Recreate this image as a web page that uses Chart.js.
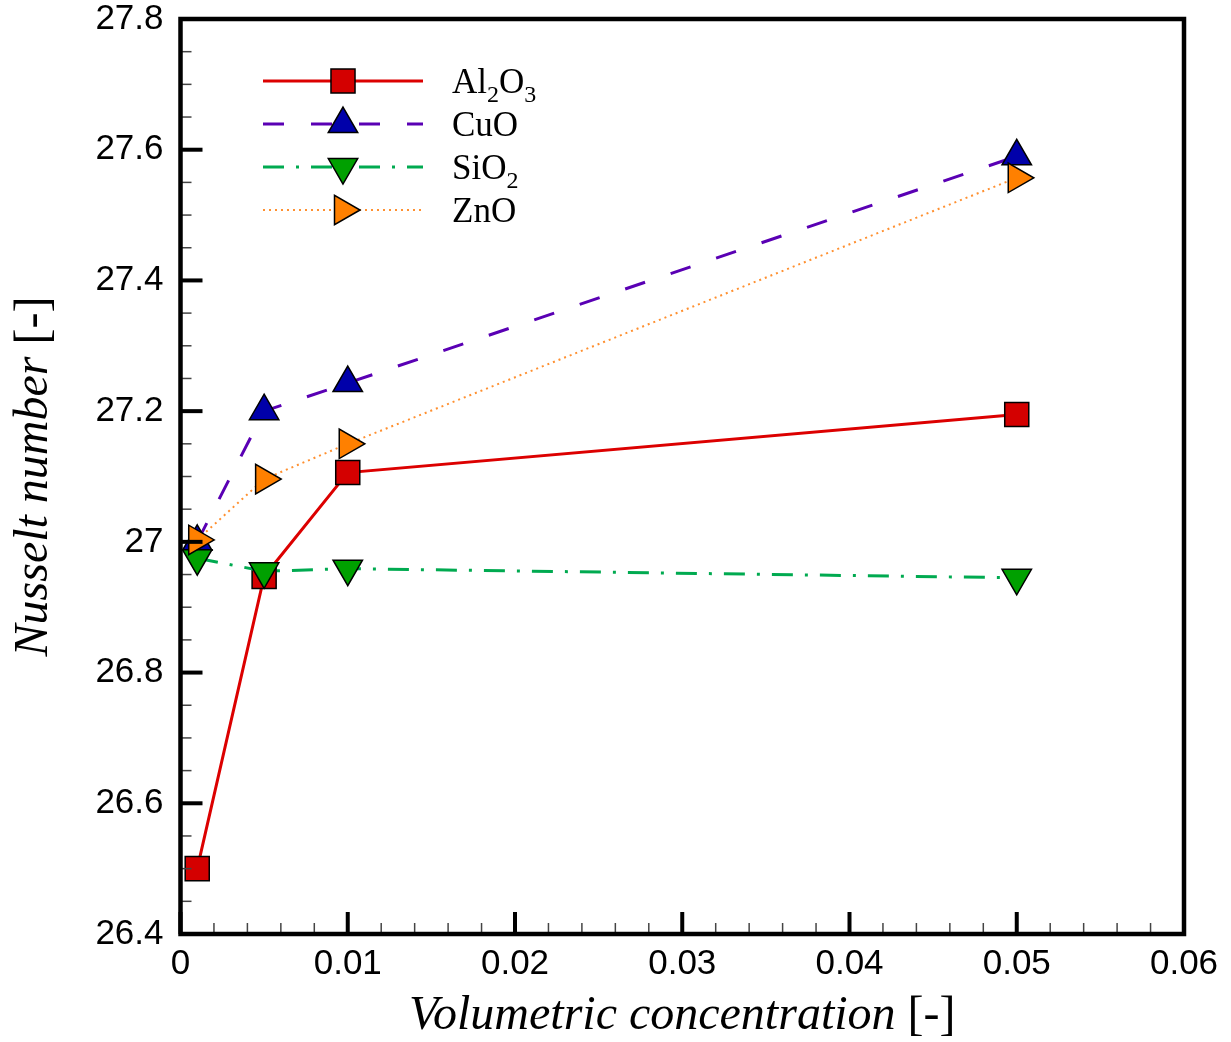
<!DOCTYPE html>
<meta charset="utf-8">
<style>
	body { margin: 0; background: #fff; }
</style>
<body>

	<script src="https://cdn.jsdelivr.net/npm/chart.js"></script>

	<canvas id="nusseltChart" width="1231" height="1042"></canvas>

	<script>
		// volumetric concentration values and Nusselt number per nanofluid
		var concentrations = [0.001, 0.005, 0.01, 0.05];
		var al2o3 = [26.5, 26.947, 27.106, 27.195];
		var cuo = [27.0, 27.2, 27.243, 27.59];
		var sio2 = [26.975, 26.955, 26.959, 26.945];
		var zno = [27.003, 27.096, 27.15, 27.557];

		// legend text, split so subscripts can be drawn smaller
		var legendLabels = [
			[["Al", 0], ["2", 1], ["O", 0], ["3", 1]],
			[["CuO", 0]],
			[["SiO", 0], ["2", 1]],
			[["ZnO", 0]]
		];

		var xTitle = ["Volumetric concentration ", "[-]"];
		var yTitle = ["Nusselt number ", "[-]"];

		function points(ys) {
			return ys.map(function(y, i) { return {x: concentrations[i], y: y}; });
		}

		var sets = [
			{ label: "Al2O3", data: points(al2o3), borderColor: "#dc0000", backgroundColor: "#d40000",
			  pointStyle: "rect", pointRotation: 0, pointRadius: 17, borderWidth: 3, borderDash: [], order: 3 },
			{ label: "CuO", data: points(cuo), borderColor: "#5a00b4", backgroundColor: "#0000aa",
			  pointStyle: "triangle", pointRotation: 0, pointRadius: 17, borderWidth: 3, borderDash: [21, 27], order: 2 },
			{ label: "SiO2", data: points(sio2), borderColor: "#00aa50", backgroundColor: "#00a000",
			  pointStyle: "triangle", pointRotation: 180, pointRadius: 17, borderWidth: 3, borderDash: [21, 12, 3, 12], order: 1 },
			{ label: "ZnO", data: points(zno), borderColor: "#ff9030", backgroundColor: "#ff8000",
			  pointStyle: "triangle", pointRotation: 90, pointRadius: 17, borderWidth: 2, borderDash: [2, 4], order: 0 }
		];

		var datasets = sets.map(function(s) {
			return {
				label: s.label,
				data: s.data,
				order: s.order,
				borderColor: s.borderColor,
				borderWidth: s.borderWidth,
				borderDash: s.borderDash,
				backgroundColor: s.backgroundColor,
				pointStyle: s.pointStyle,
				pointRotation: s.pointRotation,
				pointRadius: s.pointRadius,
				pointHoverRadius: s.pointRadius,
				pointBackgroundColor: s.backgroundColor,
				pointBorderColor: "#000",
				pointBorderWidth: 1.5,
				tension: 0,
				fill: false,
				clip: false
			};
		});

		function isMultiple(v, step) {
			var q = v / step;
			return Math.abs(q - Math.round(q)) < 1e-6;
		}

		// frame, inward ticks, axis titles and legend
		var decorations = {
			id: "decorations",
			afterDraw: function(chart) {
				var ctx = chart.ctx;
				var area = chart.chartArea;
				var xs = chart.scales.x;
				var ys = chart.scales.y;
				ctx.save();

				// ticks
				ys.ticks.forEach(function(t) {
					var py = ys.getPixelForValue(t.value);
					var major = isMultiple(t.value - 26.4, 0.2);
					ctx.beginPath();
					ctx.strokeStyle = major ? "#000" : "#444";
					ctx.lineWidth = major ? 4 : 1.5;
					ctx.moveTo(area.left, py);
					ctx.lineTo(area.left + (major ? 22 : 11), py);
					ctx.stroke();
				});
				xs.ticks.forEach(function(t) {
					var px = xs.getPixelForValue(t.value);
					var major = isMultiple(t.value, 0.01);
					ctx.beginPath();
					ctx.strokeStyle = major ? "#000" : "#444";
					ctx.lineWidth = major ? 4 : 1.5;
					ctx.moveTo(px, area.bottom);
					ctx.lineTo(px, area.bottom - (major ? 22 : 11));
					ctx.stroke();
				});

				// frame
				ctx.strokeStyle = "#000";
				ctx.lineWidth = 4.5;
				ctx.lineJoin = "miter";
				ctx.strokeRect(area.left, area.top, area.right - area.left, area.bottom - area.top);

				// axis titles
				function mixed(parts, cx, cy) {
					var fonts = ["italic 48px 'Liberation Serif', 'Times New Roman', serif",
						"48px 'Liberation Serif', 'Times New Roman', serif"];
					var widths = parts.map(function(p, i) { ctx.font = fonts[i]; return ctx.measureText(p).width; });
					var total = widths[0] + widths[1];
					var x = cx - total / 2;
					ctx.fillStyle = "#000";
					ctx.textBaseline = "alphabetic";
					ctx.textAlign = "left";
					parts.forEach(function(p, i) {
						ctx.font = fonts[i];
						ctx.fillText(p, x, cy);
						x += widths[i];
					});
				}
				mixed(xTitle, (area.left + area.right) / 2, 1029);
				ctx.save();
				ctx.translate(47, (area.top + area.bottom) / 2);
				ctx.rotate(-Math.PI / 2);
				mixed(yTitle, 0, 0);
				ctx.restore();

				// legend
				var rowY = [81, 124, 167, 210];
				sets.forEach(function(s, i) {
					var y = rowY[i];
					ctx.beginPath();
					ctx.strokeStyle = s.borderColor;
					ctx.lineWidth = s.borderWidth;
					ctx.setLineDash(s.borderDash);
					ctx.moveTo(263, y);
					ctx.lineTo(423, y);
					ctx.stroke();
					ctx.setLineDash([]);
					ctx.fillStyle = s.backgroundColor;
					ctx.strokeStyle = "#000";
					ctx.lineWidth = 1.5;
					Chart.helpers.drawPoint(ctx, {
						pointStyle: s.pointStyle,
						rotation: s.pointRotation,
						radius: s.pointRadius,
						borderWidth: 1.5
					}, 343, y);

					var x = 452;
					ctx.fillStyle = "#000";
					ctx.textAlign = "left";
					ctx.textBaseline = "alphabetic";
					legendLabels[i].forEach(function(part) {
						ctx.font = (part[1] ? "24px" : "35px") + " 'Liberation Serif', 'Times New Roman', serif";
						ctx.fillText(part[0], x, y + 12 + (part[1] ? 9 : 0));
						x += ctx.measureText(part[0]).width;
					});
				});

				ctx.restore();
			}
		};

		var tickFont = { family: "'Liberation Sans', Arial, sans-serif", size: 35 };

		var chart = new Chart(document.getElementById("nusseltChart"), {
			type: "line",
			data: { datasets: datasets },
			options: {
				responsive: false,
				animation: false,
				events: [],
				layout: { padding: { left: 0, top: 19, right: 47, bottom: 0 } },
				plugins: {
					legend: { display: false },
					tooltip: { enabled: false }
				},
				scales: {
					x: {
						type: "linear",
						min: 0,
						max: 0.06,
						grid: { display: false },
						border: { display: false },
						afterFit: function(scale) {
							scale.height = 108;
							scale.paddingLeft = 0;
							scale.paddingRight = 0;
						},
						ticks: {
							stepSize: 0.002,
							autoSkip: false,
							maxRotation: 0,
							padding: 1,
							color: "#000",
							font: tickFont,
							callback: function(v) {
								return isMultiple(v, 0.01) ? String(+v.toFixed(2)) : "";
							}
						}
					},
					y: {
						type: "linear",
						min: 26.4,
						max: 27.8,
						grid: { display: false },
						border: { display: false },
						afterFit: function(scale) {
							scale.width = 180.5;
							scale.paddingTop = 0;
							scale.paddingBottom = 0;
						},
						ticks: {
							stepSize: 0.05,
							autoSkip: false,
							padding: 9,
							color: "#000",
							font: tickFont,
							callback: function(v) {
								return isMultiple(v - 26.4, 0.2) ? String(+v.toFixed(1)) : "";
							}
						}
					}
				}
			},
			plugins: [decorations]
		});
	</script>
</body>
